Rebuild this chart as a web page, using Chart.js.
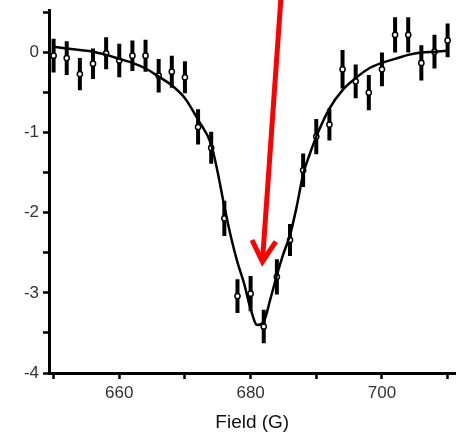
<!DOCTYPE html>
<html>
<head>
<meta charset="utf-8">
<script src="https://cdn.jsdelivr.net/npm/chart.js@4"></script>
<style>
  body { margin: 0; background: #fff; }
  #wrap { width: 461px; height: 436px; }
</style>
</head>
<body>
<div id="wrap"><canvas id="fieldChart" width="461" height="436"></canvas></div>
<script>
// measured points (field in G, signal) with error bars
const fieldPoints = [650, 652, 654, 656, 658, 660, 662, 664, 666, 668, 670, 672, 674, 676, 678, 680,
    682, 684, 686, 688, 690, 692, 694, 696, 698, 700, 702, 704, 706, 708, 710];
const signalPoints = [-0.04, -0.07, -0.27, -0.14, -0.01, -0.10, -0.04, -0.04, -0.29, -0.24, -0.31, -0.93,
    -1.19, -2.07, -3.04, -3.01, -3.42, -2.80, -2.34, -1.47, -1.05, -0.90, -0.21, -0.36, -0.50, -0.21,
    0.22, 0.22, -0.13, 0.01, 0.15];
const signalErrors = [0.21, 0.21, 0.20, 0.19, 0.20, 0.21, 0.19, 0.20, 0.21, 0.20, 0.20, 0.22, 0.20, 0.22,
    0.21, 0.22, 0.21, 0.22, 0.20, 0.21, 0.22, 0.20, 0.24, 0.21, 0.22, 0.21, 0.22, 0.22, 0.22, 0.21, 0.21];

// fitted line
const fitField = [650, 652, 654, 656, 658, 660, 662, 664, 666, 668, 670, 672, 674, 675, 676, 677, 678,
    679, 680, 681, 682, 683, 684, 685, 686, 687, 688, 689, 690, 692, 694, 696, 698, 700, 702, 704, 706,
    708, 710];
const fitSignal = [0.07, 0.05, 0.03, 0.01, -0.03, -0.08, -0.13, -0.20, -0.30, -0.41, -0.57, -0.84, -1.15,
    -1.50, -1.92, -2.30, -2.62, -2.88, -3.20, -3.40, -3.36, -3.08, -2.78, -2.51, -2.28, -1.93, -1.52,
    -1.27, -1.05, -0.70, -0.47, -0.32, -0.20, -0.13, -0.08, -0.03, 0.00, 0.01, 0.02];

const xTickLabels = [660, 680, 700];
const yTickLabels = [0, -1, -2, -3, -4];

// red arrow, in data units (tail sits above the plot)
const arrowTail = [684.6, 0.66];
const arrowHead = [681.8, -2.61];

const markerData = fieldPoints.map((x, i) => ({ x: x, y: signalPoints[i] }));
const errorData = [];
fieldPoints.forEach((x, i) => {
    errorData.push({ x: x, y: signalPoints[i] - signalErrors[i] });
    errorData.push({ x: x, y: signalPoints[i] + signalErrors[i] });
    errorData.push({ x: x, y: null });
});
const fitData = fitField.map((x, i) => ({ x: x, y: fitSignal[i] }));

const arrowPlugin = {
    id: 'arrow',
    afterDraw(chart) {
        const { ctx, scales } = chart;
        const x0 = scales.x.getPixelForValue(arrowTail[0]);
        const y0 = scales.y.getPixelForValue(arrowTail[1]);
        const x1 = scales.x.getPixelForValue(arrowHead[0]);
        const y1 = scales.y.getPixelForValue(arrowHead[1]);
        const ang = Math.atan2(y1 - y0, x1 - x0);
        const wing = 24, spread = 0.52;
        ctx.save();
        ctx.strokeStyle = '#ff0000';
        ctx.lineWidth = 5;
        ctx.lineCap = 'butt';
        ctx.lineJoin = 'miter';
        ctx.beginPath();
        ctx.moveTo(x0, y0);
        ctx.lineTo(x1, y1);
        ctx.stroke();
        ctx.beginPath();
        ctx.moveTo(x1 - wing * Math.cos(ang - spread), y1 - wing * Math.sin(ang - spread));
        ctx.lineTo(x1, y1);
        ctx.lineTo(x1 - wing * Math.cos(ang + spread), y1 - wing * Math.sin(ang + spread));
        ctx.stroke();
        ctx.restore();
    }
};

const fontFamily = '"Liberation Sans", Arial, sans-serif';

new Chart(document.getElementById('fieldChart'), {
    type: 'line',
    data: {
        datasets: [
            {
                label: 'fit',
                data: fitData,
                borderColor: '#000',
                borderWidth: 2.5,
                pointRadius: 0,
                cubicInterpolationMode: 'monotone',
                order: 0
            },
            {
                label: 'data',
                data: markerData,
                showLine: false,
                pointRadius: 2.6,
                pointBorderWidth: 1.5,
                pointBorderColor: '#000',
                pointBackgroundColor: '#fff',
                order: 1
            },
            {
                label: 'err',
                data: errorData,
                borderColor: '#000',
                borderWidth: 4,
                pointRadius: 0,
                spanGaps: false,
                order: 2
            }
        ]
    },
    options: {
        responsive: false,
        animation: false,
        layout: { padding: { top: 10, right: 4, left: 0, bottom: 0 } },
        plugins: { legend: { display: false }, tooltip: { enabled: false } },
        scales: {
            x: {
                type: 'linear',
                min: 649.3,
                max: 711.2,
                afterFit: s => { s.height = 63; s.paddingLeft = 0; s.paddingRight = 0; },
                border: { color: '#000', width: 3 },
                grid: { drawOnChartArea: false, drawTicks: true, tickLength: 6, tickWidth: 2.5, tickColor: '#000' },
                ticks: {
                    stepSize: 10,
                    includeBounds: false,
                    autoSkip: false,
                    maxRotation: 0,
                    padding: 4,
                    color: '#333',
                    font: { family: fontFamily, size: 17 },
                    callback: v => xTickLabels.includes(v) ? String(v) : ''
                },
                title: {
                    display: true,
                    text: 'Field (G)',
                    color: '#111',
                    font: { family: fontFamily, size: 19 },
                    padding: { top: 0, bottom: 2 }
                }
            },
            y: {
                min: -4,
                max: 0.53,
                afterFit: s => { s.width = 49; s.paddingTop = 0; s.paddingBottom = 0; },
                border: { color: '#000', width: 3 },
                grid: { drawOnChartArea: false, drawTicks: true, tickLength: 6, tickWidth: 2.5, tickColor: '#000' },
                ticks: {
                    stepSize: 0.5,
                    includeBounds: false,
                    padding: 4,
                    color: '#333',
                    font: { family: fontFamily, size: 17 },
                    callback: v => yTickLabels.includes(v) ? String(v) : ''
                }
            }
        }
    },
    plugins: [arrowPlugin]
});
</script>
</body>
</html>
